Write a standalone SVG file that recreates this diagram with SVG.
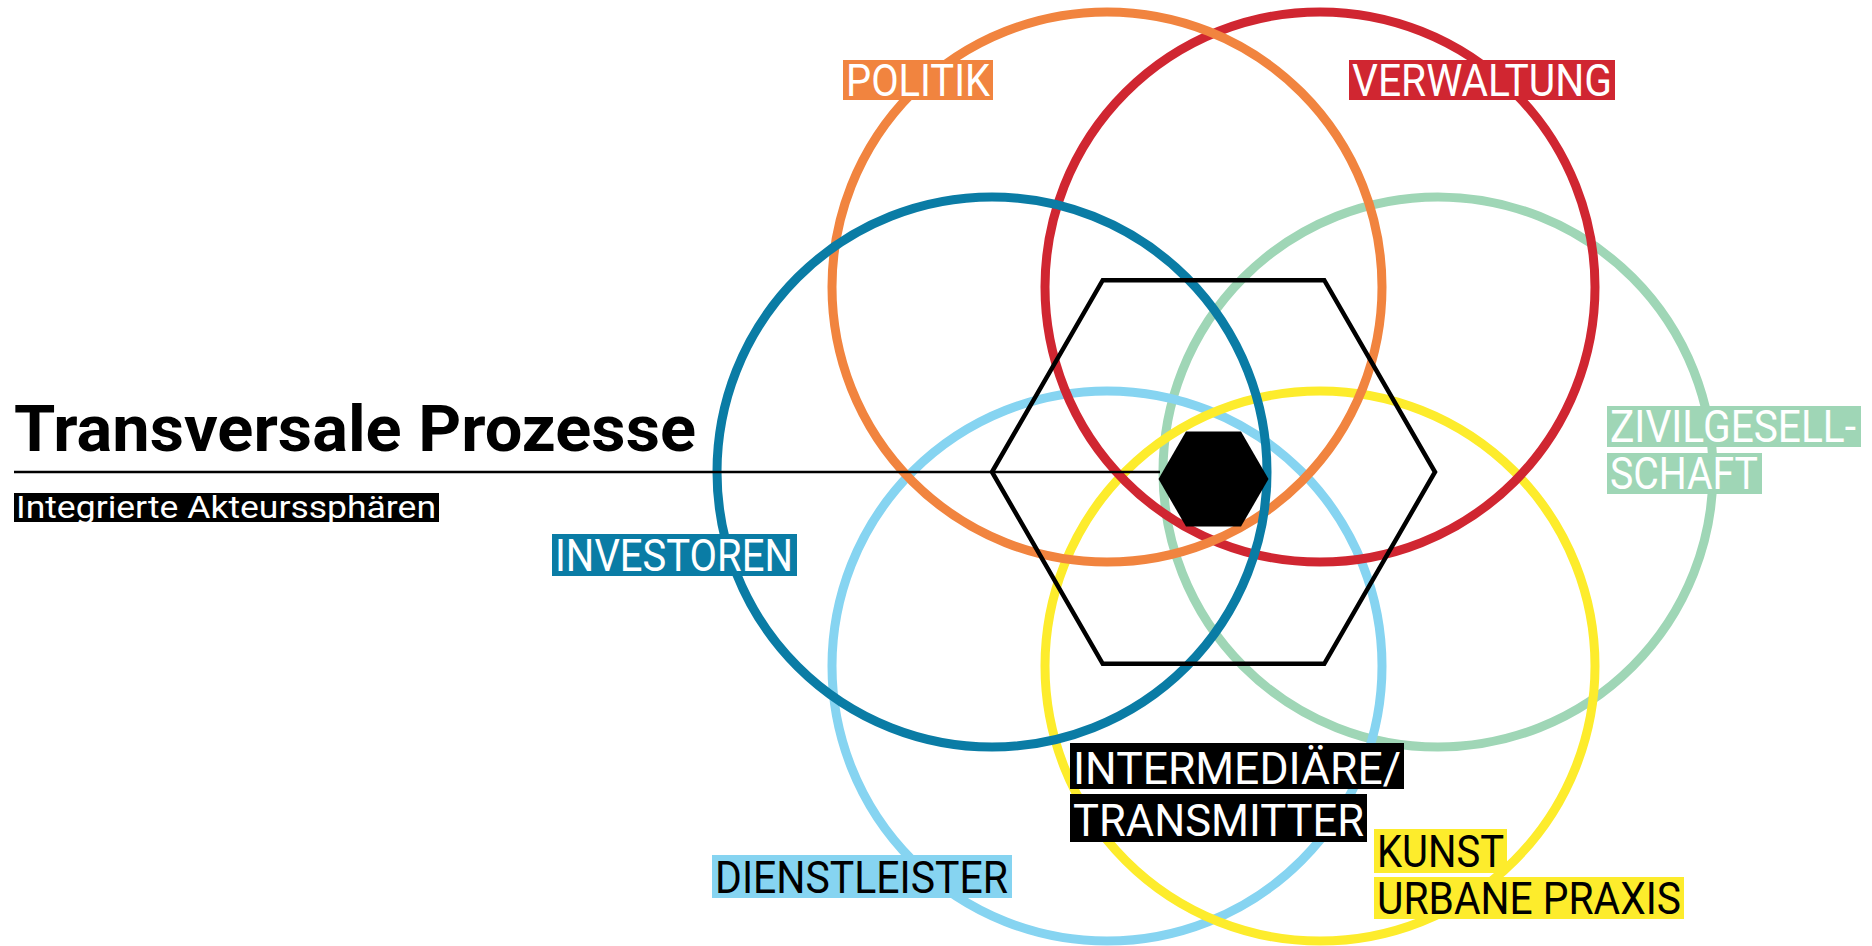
<svg xmlns="http://www.w3.org/2000/svg" width="1872" height="946" viewBox="0 0 1872 946">
<style>
.c{fill:none;stroke-width:9}
.lbl{font-family:Roboto,"Liberation Sans",sans-serif;font-size:44px;fill:#fff}
.dk{fill:#000}
</style>
<rect width="1872" height="946" fill="#fff"/>
<g id="circles">
<circle id="c-zivil" class="c" cx="1438" cy="472" r="275" stroke="#9fd6b6"/>
<circle id="c-dienst" class="c" cx="1107" cy="666" r="275" stroke="#86d4f1"/>
<circle id="c-kunst" class="c" cx="1320" cy="666" r="275" stroke="#fdec2c"/>
<circle id="c-verw" class="c" cx="1320" cy="287" r="275" stroke="#d02631"/>
<circle id="c-politik" class="c" cx="1107" cy="287" r="275" stroke="#f1843f"/>
<circle id="c-invest" class="c" cx="992" cy="472" r="275" stroke="#0a7ca5"/>
</g>
<g id="connectors">
<line x1="14" y1="472" x2="1160" y2="472" stroke="#000" stroke-width="2.5"/>
</g>
<g id="hexagon">
<polygon points="992,472 1102.75,280.2 1324.25,280.2 1435,472 1324.25,663.8 1102.75,663.8" fill="none" stroke="#000" stroke-width="4.5"/>
</g>
<g id="core">
<polygon points="1158.5,479 1186,431.4 1241,431.4 1268.5,479 1241,526.6 1186,526.6" fill="#000"/>
</g>
<g id="title">
<text x="14" y="451" font-family="Roboto,'Liberation Sans',sans-serif" font-weight="bold" font-size="64" textLength="682" lengthAdjust="spacingAndGlyphs" fill="#000">Transversale Prozesse</text>
<rect x="14" y="493" width="425" height="29" fill="#000"/>
<text x="16" y="518" font-family="Roboto,'Liberation Sans',sans-serif" font-size="32" textLength="420" lengthAdjust="spacingAndGlyphs" fill="#fff">Integrierte Akteurssphären</text>
</g>
<g id="politik">
<rect x="843" y="60" width="150" height="40" fill="#f1843f"/>
<text class="lbl" x="846" y="96" textLength="144" lengthAdjust="spacingAndGlyphs">POLITIK</text>
</g>
<g id="verwaltung">
<rect x="1349" y="60" width="266" height="40" fill="#d02631"/>
<text class="lbl" x="1352" y="96" textLength="260" lengthAdjust="spacingAndGlyphs">VERWALTUNG</text>
</g>
<g id="zivilgesellschaft">
<rect x="1607" y="406" width="254" height="41" fill="#9fd6b6"/>
<text class="lbl" x="1610" y="442" textLength="246" lengthAdjust="spacingAndGlyphs">ZIVILGESELL-</text>
<rect x="1607" y="453" width="155" height="41" fill="#9fd6b6"/>
<text class="lbl" x="1610" y="489" textLength="148" lengthAdjust="spacingAndGlyphs">SCHAFT</text>
</g>
<g id="investoren">
<rect x="552" y="534" width="245" height="42" fill="#0a7ca5"/>
<text class="lbl" x="555" y="571" textLength="238" lengthAdjust="spacingAndGlyphs">INVESTOREN</text>
</g>
<g id="intermediaere">
<rect x="1070" y="743" width="334" height="46" fill="#000"/>
<text class="lbl" x="1073" y="784" font-size="50" textLength="328" lengthAdjust="spacingAndGlyphs">INTERMEDIÄRE/</text>
<rect x="1070" y="794" width="297" height="48" fill="#000"/>
<text class="lbl" x="1073" y="836" font-size="50" textLength="291" lengthAdjust="spacingAndGlyphs">TRANSMITTER</text>
</g>
<g id="dienstleister">
<rect x="712" y="855" width="300" height="43" fill="#86d4f1"/>
<text class="lbl dk" x="715" y="893" textLength="293" lengthAdjust="spacingAndGlyphs">DIENSTLEISTER</text>
</g>
<g id="kunst">
<rect x="1374" y="829" width="133" height="44" fill="#fdec2c"/>
<text class="lbl dk" x="1377" y="867" textLength="127" lengthAdjust="spacingAndGlyphs">KUNST</text>
<rect x="1374" y="877" width="310" height="42" fill="#fdec2c"/>
<text class="lbl dk" x="1377" y="914" textLength="304" lengthAdjust="spacingAndGlyphs">URBANE PRAXIS</text>
</g>
</svg>
